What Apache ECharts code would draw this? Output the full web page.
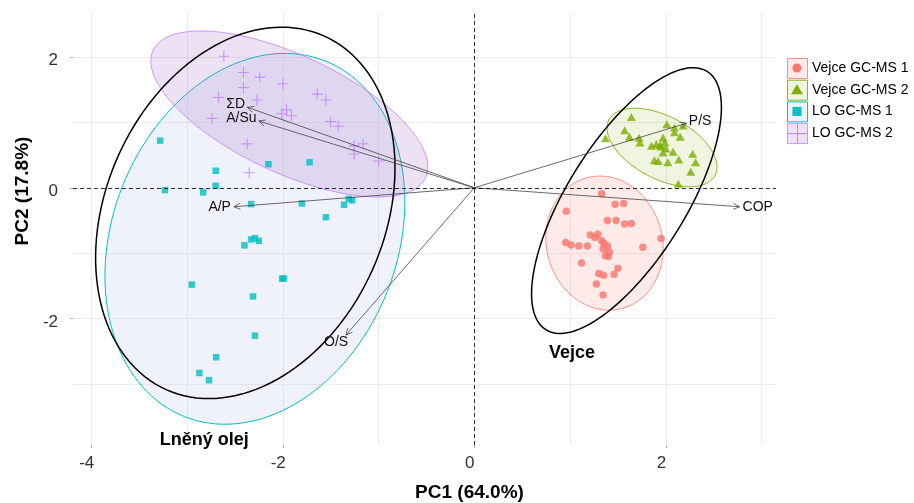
<!DOCTYPE html>
<html>
<head>
<meta charset="utf-8">
<script src="https://cdn.jsdelivr.net/npm/echarts@6/dist/echarts.min.js"></script>
<style>
html, body { margin: 0; padding: 0; background: #fff; }
#chart { width: 914px; height: 503px; }
</style>
</head>
<body>
<div id="chart"></div>
<script>
// skóre PCA [PC1, PC2]
const vejce1 = [[1.33,-0.09],[1.47,-0.25],[1.56,-0.24],[0.96,-0.36],[1.39,-0.50],[1.48,-0.50],[1.57,-0.555],[1.64,-0.545],
	[1.21,-0.72],[1.29,-0.71],[1.26,-0.76],[1.33,-0.81],[1.355,-0.85],[1.39,-0.89],[0.955,-0.835],[1.01,-0.875],[1.09,-0.89],
	[1.18,-0.89],[1.345,-0.93],[1.41,-0.98],[1.37,-1.04],[1.40,-1.05],[1.76,-0.91],[1.95,-0.775],[1.12,-1.15],[1.50,-1.23],
	[1.30,-1.31],[1.35,-1.335],[1.46,-1.32],[1.275,-1.47],[1.345,-1.64]]
const vejce2 = [[1.64,1.08],[2.01,0.97],[2.09,0.92],[2.18,0.95],[1.57,0.88],[1.37,0.755],[1.62,0.78],[1.72,0.765],[1.73,0.69],
	[1.97,0.765],[2.15,0.78],[2.09,0.85],[1.99,0.69],[1.94,0.65],[1.85,0.64],[2.00,0.60],[2.075,0.55],[1.97,0.54],[1.88,0.42],
	[1.92,0.41],[2.02,0.39],[2.135,0.43],[2.28,0.52],[2.31,0.39],[2.26,0.245],[2.13,0.06],[1.95,0.63],[1.90,0.67]]
const lo1 = [[-3.28,0.72],[-2.70,0.26],[-2.15,0.36],[-1.72,0.39],[-3.23,-0.035],[-2.70,0.03],[-2.83,-0.07],[-2.33,-0.25],
	[-1.80,-0.24],[-1.36,-0.26],[-1.31,-0.17],[-1.275,-0.19],[-1.55,-0.45],[-2.29,-0.77],[-2.25,-0.81],[-2.33,-0.79],[-2.40,-0.88],
	[-2.95,-1.48],[-2.006,-1.39],[-1.99,-1.385],[-2.31,-1.66],[-2.29,-2.26],[-2.695,-2.59],[-2.87,-2.83],[-2.77,-2.94]]
const lo2 = [[-2.615,2.01],[-2.41,1.76],[-2.24,1.69],[-2.41,1.53],[-2.00,1.59],[-2.67,1.38],[-2.27,1.34],[-1.64,1.43],
	[-1.55,1.34],[-2.74,1.06],[-2.01,1.13],[-1.96,1.19],[-1.91,1.10],[-1.50,1.01],[-1.42,0.94],[-2.37,0.67],[-1.255,0.64],
	[-1.16,0.67],[-1.255,0.515],[-1.00,0.41],[-2.35,0.23]]

// elipsy: [stred x, stred y, poloosa u (x, y), poloosa v (x, y)]
const ellGroups = [[1.359,-0.846,0.189,-0.997,-0.583,-0.238],[1.960,0.615,0.554,-0.424,-0.151,-0.424],
	[-2.291,-0.780,0.734,2.717,1.383,-0.802],[-1.931,1.127,1.423,-0.972,-0.259,-0.815]]
const ellSamples = [[1.589,-0.196,0.842,1.973,0.523,-0.479],[-2.391,-0.384,0.826,2.700,1.327,-0.871]]

// vektory promennych
const varNames = ['ΣD','A/Su','A/P','O/S','P/S','COP']
const varX = [-2.37,-2.25,-2.51,-1.34,2.215,2.77]
const varY = [1.23,1.02,-0.29,-2.25,0.985,-0.29]

const sampleNames = ['Vejce','Lněný olej']
const sampleX = [1.02,-2.82]
const sampleY = [-2.53,-3.86]

const groupNames = ['Vejce GC-MS 1','Vejce GC-MS 2','LO GC-MS 1','LO GC-MS 2']
const xTicks = [-4,-2,0,2]
const yTicks = [-2,0,2]
const xGrid = [-4,-3,-2,-1,0,1,2,3]
const yGrid = [-3,-2,-1,0,1,2]
const xMin = -4.19, xMax = 3.15
const yMin = -3.93, yMax = 2.67

const colors = ['#F8766D','#7CAE00','#00BFC4','#C77CFF']
const fills = ['rgba(248,118,109,0.15)','rgba(124,174,0,0.12)','rgba(190,205,235,0.25)','rgba(160,110,200,0.2)']
const strokes = ['rgba(248,118,109,0.8)','rgba(124,174,0,0.9)','#00BFC4','rgba(199,124,255,0.8)']
const FONT = 'Liberation Sans, Arial, sans-serif'
const plusPath = 'path://M0,9h20v2h-20z M9,0h2v20h-2z'

const measure = document.createElement('canvas').getContext('2d')
measure.font = '14px ' + FONT

function ellipseRender(fillArr, strokeArr, widthArr) {
	return function(params, api) {
		const cx = api.value(0), cy = api.value(1)
		const ux = api.value(2), uy = api.value(3), vx = api.value(4), vy = api.value(5)
		let pts = []
		for(let k = 0; k < 140; k++) {
			const t = k / 140 * Math.PI * 2
			pts.push(api.coord([cx + ux * Math.cos(t) + vx * Math.sin(t), cy + uy * Math.cos(t) + vy * Math.sin(t)]))
		}
		const i = params.dataIndex
		return {
			type: 'polygon',
			shape: { points: pts },
			style: { fill: fillArr[i], stroke: strokeArr[i], lineWidth: widthArr[i] }
		}
	}
}

function arrowRender(params, api) {
	const i = params.dataIndex
	const o = api.coord([0, 0])
	const p = api.coord([varX[i], varY[i]])
	const ang = Math.atan2(p[1] - o[1], p[0] - o[0])
	const h = 7, w = 0.45
	const a1 = [p[0] - h * Math.cos(ang - w), p[1] - h * Math.sin(ang - w)]
	const a2 = [p[0] - h * Math.cos(ang + w), p[1] - h * Math.sin(ang + w)]
	const tw = measure.measureText(varNames[i]).width
	const ux = Math.cos(ang), uy = Math.sin(ang)
	return {
		type: 'group',
		children: [
			{ type: 'line', shape: { x1: o[0], y1: o[1], x2: p[0], y2: p[1] }, style: { stroke: '#444', lineWidth: 0.8 } },
			{ type: 'polyline', shape: { points: [a1, p, a2] }, style: { stroke: '#444', fill: null, lineWidth: 0.8 } },
			{
				type: 'text',
				x: p[0] + ux * (tw / 2 + 3),
				y: p[1] + uy * 9,
				style: { text: varNames[i], fill: '#111', font: '14px ' + FONT, align: 'center', verticalAlign: 'middle' }
			}
		]
	}
}

function sampleRender(params, api) {
	const i = params.dataIndex
	const p = api.coord([sampleX[i], sampleY[i]])
	return {
		type: 'text', x: p[0], y: p[1],
		style: { text: sampleNames[i], fill: '#000', font: 'bold 18px ' + FONT, align: 'center', verticalAlign: 'middle' }
	}
}

// legenda s rameckem jako v ggplot
let legendItems = []
const keySymbols = [
	cy => ({ type: 'circle', shape: { cx: 797, cy: cy, r: 4.5 } }),
	cy => ({ type: 'polygon', shape: { points: [[797, cy - 5.5], [803, cy + 4.5], [791, cy + 4.5]] } }),
	cy => ({ type: 'rect', shape: { x: 792.5, y: cy - 4.5, width: 9, height: 9 } })
]
for(let i in groupNames) {
	const top = 58 + 21.7 * i
	const cy = top + 10
	legendItems.push({ type: 'rect', shape: { x: 787.5, y: top + 0.5, width: 20, height: 20 }, style: { fill: fills[i], stroke: strokes[i], lineWidth: 1 } })
	if(i < 3) {
		let s = keySymbols[i](cy)
		s.style = { fill: colors[i] }
		legendItems.push(s)
	} else {
		legendItems.push({ type: 'line', shape: { x1: 788, y1: cy + 0.5, x2: 807, y2: cy + 0.5 }, style: { stroke: colors[i], lineWidth: 1 } })
		legendItems.push({ type: 'line', shape: { x1: 797.5, y1: top + 1, x2: 797.5, y2: top + 20 }, style: { stroke: colors[i], lineWidth: 1 } })
	}
	legendItems.push({ type: 'text', x: 812, y: cy, style: { text: groupNames[i], fill: '#000', font: '14px ' + FONT, verticalAlign: 'middle' } })
}

const chart = echarts.init(document.getElementById('chart'))
const labelStyle = { fontSize: 17, color: '#333', fontFamily: FONT }
const titleStyle = { fontSize: 19, fontWeight: 'bold', color: '#000', fontFamily: FONT }
chart.setOption({
	animation: false,
	textStyle: { fontFamily: FONT },
	grid: { left: 73, right: 138, top: 13, bottom: 58, containLabel: false, outerBoundsMode: 'none' },
	xAxis: [{
		type: 'value', min: xMin, max: xMax,
		axisLine: { show: false, onZero: false },
		axisTick: { show: false, customValues: xGrid },
		axisLabel: { show: false },
		splitLine: { show: true, lineStyle: { color: '#ebebeb', width: 1 } }
	}, {
		type: 'value', min: xMin, max: xMax, position: 'bottom',
		axisLine: { show: false, onZero: false },
		axisTick: { show: true, customValues: xTicks, length: 3, lineStyle: { color: '#aaa' } },
		axisLabel: Object.assign({ customValues: xTicks, margin: 10, padding: [0, 9, 0, 0] }, labelStyle),
		splitLine: { show: false },
		// titulek je v originale posunuty doprava od stredu panelu
		name: 'PC1 (64.0%)', nameLocation: 'middle', nameGap: 38,
		nameTextStyle: Object.assign({ padding: [0, 0, 0, 90] }, titleStyle)
	}],
	yAxis: [{
		type: 'value', min: yMin, max: yMax,
		axisLine: { show: false, onZero: false },
		axisTick: { show: false, customValues: yGrid },
		axisLabel: { show: false },
		splitLine: { show: true, lineStyle: { color: '#ebebeb', width: 1 } }
	}, {
		type: 'value', min: yMin, max: yMax, position: 'left',
		axisLine: { show: false, onZero: false },
		axisTick: { show: true, customValues: yTicks, length: 3, lineStyle: { color: '#aaa' } },
		axisLabel: Object.assign({ customValues: yTicks, margin: 15, verticalAlign: 'top', lineHeight: 7 }, labelStyle),
		splitLine: { show: false },
		name: 'PC2 (17.8%)', nameLocation: 'middle', nameGap: 38,
		nameTextStyle: Object.assign({ padding: [0, 0, 0, 76] }, titleStyle)
	}],
	graphic: legendItems,
	series: [{
		type: 'custom', name: 'skupiny', silent: true, z: 1,
		renderItem: ellipseRender(fills, strokes, [1, 1, 1, 1]),
		data: ellGroups
	}, {
		type: 'custom', name: 'vzorky', silent: true, z: 2,
		renderItem: ellipseRender([null, null], ['#000', '#000'], [1.5, 1.5]),
		data: ellSamples
	}, {
		type: 'scatter', name: groupNames[0], data: vejce1, symbol: 'circle', symbolSize: 7.5,
		itemStyle: { color: colors[0] }, silent: true, z: 3,
		markLine: {
			silent: true, symbol: 'none', label: { show: false },
			lineStyle: { color: '#000', type: [4, 3], width: 0.8 },
			data: [{ xAxis: 0 }, { yAxis: 0 }]
		}
	}, {
		type: 'scatter', name: groupNames[1], data: vejce2, symbol: 'triangle', symbolSize: [9, 8],
		itemStyle: { color: colors[1] }, silent: true, z: 3
	}, {
		type: 'scatter', name: groupNames[2], data: lo1, symbol: 'rect', symbolSize: 6.5,
		itemStyle: { color: colors[2] }, silent: true, z: 3
	}, {
		type: 'scatter', name: groupNames[3], data: lo2, symbol: plusPath, symbolSize: 11,
		itemStyle: { color: colors[3] }, silent: true, z: 3
	}, {
		type: 'custom', name: 'promenne', silent: true, z: 4,
		renderItem: arrowRender,
		data: varX.map((x, i) => [x, varY[i]])
	}, {
		type: 'custom', name: 'popisky', silent: true, z: 5,
		renderItem: sampleRender,
		data: sampleX.map((x, i) => [x, sampleY[i]])
	}]
})
</script>
</body>
</html>
